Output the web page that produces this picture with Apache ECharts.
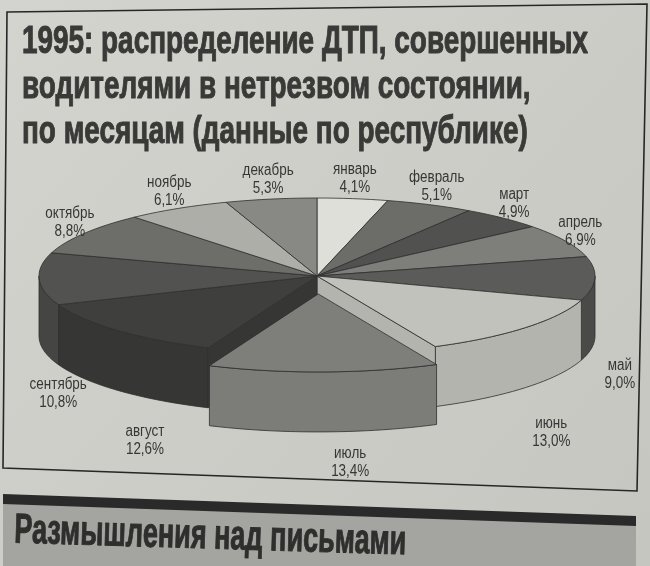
<!DOCTYPE html>
<html>
<head>
<meta charset="utf-8">
<script src="https://cdn.jsdelivr.net/npm/echarts@6/dist/echarts.min.js"></script>
<style>
  html, body { margin: 0; padding: 0; background: #cdcdc8; }
  #chart { width: 650px; height: 566px; }
</style>
</head>
<body>
<div id="chart"></div>
<script>
// data (shares of the year, %)
const months = ['январь', 'февраль', 'март', 'апрель', 'май', 'июнь',
                'июль', 'август', 'сентябрь', 'октябрь', 'ноябрь', 'декабрь'];
const shares = [4.1, 5.1, 4.9, 6.9, 9.0, 13.0, 13.4, 12.6, 10.8, 8.8, 6.1, 5.3];
const explodedMonth = 'июль';

const titleLines = ['1995: распределение ДТП, совершенных',
                    'водителями в нетрезвом состоянии,',
                    'по месяцам (данные по республике)'];
const headingText = 'Размышления над письмами';

// grey "halftone" tones for top faces and walls
const topTones  = ['#dfdfd9', '#6c6c69', '#515150', '#7e7e7b', '#5b5b59', '#c2c2bc',
                   '#7e7e7b', '#3f3f3e', '#525250', '#6d6d6a', '#aeaea9', '#888885'];
const sideTones = ['#c8c8c2', '#5a5a58', '#444443', '#686866', '#4a4a48', '#b4b4ae',
                   '#7c7c79', '#363635', '#454544', '#5c5c5a', '#9a9a95', '#747471'];

const FONT = "'Liberation Sans', Arial, sans-serif";

// the paper uses a condensed face: squeeze Liberation Sans to the printed width
const measureCtx = document.createElement('canvas').getContext('2d');
function fitScale(text, font, width) {
  measureCtx.font = font;
  return width / measureCtx.measureText(text).width;
}

// pie geometry (tilted ellipse)
const CX = 317, CY = 276, RX = 278, RY = 78, DEPTH = 60;

const total = shares.reduce((a, b) => a + b, 0);
const startAngles = [];
const endAngles = [];
let acc = 0;
shares.forEach(v => {
  startAngles.push(acc / total * 360);
  acc += v;
  endAngles.push(acc / total * 360);
});

function pt(deg, ox, oy, drop) {
  const r = deg * Math.PI / 180;
  return [CX + ox + RX * Math.sin(r), CY + oy - RY * Math.cos(r) + (drop || 0)];
}

function arcPts(a0, a1, ox, oy, drop) {
  const n = Math.max(2, Math.ceil((a1 - a0) / 2));
  const out = [];
  for (let k = 0; k <= n; k++) out.push(pt(a0 + (a1 - a0) * k / n, ox, oy, drop));
  return out;
}

function fmtShare(v) {
  return v.toFixed(1).replace('.', ',') + '%';
}

const edge = { stroke: '#2f2f2e', lineWidth: 0.8 };

// layer: 'walls' | 'tops' | 'pulled' | 'labels'
function makeRenderer(layer) {
  return function (params, api) {
    const i = params.dataIndex;
    const share = api.value(1);
    const a0 = startAngles[i], a1 = endAngles[i];
    const m = (a0 + a1) / 2 * Math.PI / 180;
    const exploded = months[i] === explodedMonth;
    const ox = exploded ? 0.23 * RX * Math.sin(m) : 0;
    const oy = exploded ? -0.23 * RY * Math.cos(m) : 0;
    const c = [CX + ox, CY + oy];
    const children = [];

    if (layer === 'labels') {
      // upper labels on a wide ellipse, lower ones pushed below the wall
      const s = Math.sin(m), co = Math.cos(m);
      const front = co < 0;
      const leftPull = Math.pow(Math.max(0, -s), 4);
      const lx = front ? CX + 28 + 275 * s - 12 * leftPull : CX + 295 * s;
      const ly = front ? CY + 96 - 91 * co + 18 * leftPull : CY - 98 * co;
      return {
        type: 'text', x: lx, y: ly, scaleX: 0.84,
        style: {
          text: months[i] + '\n' + fmtShare(share),
          x: 0, y: 0, align: 'center', verticalAlign: 'middle',
          fontSize: 16, lineHeight: 18, fontFamily: FONT, fill: '#363635'
        }
      };
    }

    if ((layer === 'pulled') !== exploded) return null;

    if (layer === 'walls' || layer === 'pulled') {
      // outer wall, only the half that faces us
      const w0 = Math.max(a0, 90), w1 = Math.min(a1, 270);
      if (w1 > w0) {
        const topEdge = arcPts(w0, w1, ox, oy, 0);
        const botEdge = arcPts(w0, w1, ox, oy, DEPTH).reverse();
        children.push({
          type: 'polygon', shape: { points: topEdge.concat(botEdge) },
          style: Object.assign({ fill: sideTones[i] }, edge)
        });
      }
      // cut faces left open by the pulled-out slice
      const cutFace = deg => {
        const p = pt(deg, ox, oy, 0);
        return [c, p, [p[0], p[1] + DEPTH], [c[0], c[1] + DEPTH]];
      };
      const n = months.length;
      const next = months[(i + 1) % n], prev = months[(i + n - 1) % n];
      if (!exploded && next === explodedMonth && Math.sin(a1 * Math.PI / 180) > 0) {
        children.push({ type: 'polygon', shape: { points: cutFace(a1) },
          style: Object.assign({ fill: sideTones[i] }, edge) });
      }
      if (!exploded && prev === explodedMonth && Math.sin(a0 * Math.PI / 180) < 0) {
        children.push({ type: 'polygon', shape: { points: cutFace(a0) },
          style: Object.assign({ fill: sideTones[i] }, edge) });
      }
    }

    if (layer === 'tops' || layer === 'pulled') {
      children.push({
        type: 'polygon', shape: { points: [c].concat(arcPts(a0, a1, ox, oy, 0)) },
        style: Object.assign({ fill: topTones[i] }, edge)
      });
    }

    return { type: 'group', children };
  };
}

const titleFont = 'bold 38px ' + FONT;
const titleScale = fitScale(titleLines[0], titleFont, 566);
const headingFont = 'bold 42px ' + FONT;
const headingScale = fitScale(headingText, headingFont, 392);

const sliceData = months.map((name, i) => ({ name, value: [i, shares[i]] }));

const chart = echarts.init(document.getElementById('chart'), null, { renderer: 'canvas' });

chart.setOption({
  backgroundColor: {
    type: 'linear', x: 0, y: 0, x2: 1, y2: 1,
    colorStops: [{ offset: 0, color: '#d4d4cf' }, { offset: 1, color: '#c6c6c1' }]
  },
  animation: false,
  graphic: [
    { type: 'polygon', z: -1,
      shape: { points: [[7, 12], [647, 4], [637, 491], [3, 468]] },
      style: { fill: 'none', stroke: '#262626', lineWidth: 1.6 } }
  ].concat(titleLines.map((line, k) => ({
    // 'top' anchor: the baseline lands about 31px lower
    type: 'text', x: 22, y: 24 + 45 * k, scaleX: titleScale,
    style: { text: line, font: titleFont, fill: '#393938', stroke: '#393938', lineWidth: 1,
             verticalAlign: 'top' }
  }))).concat([
    { type: 'polygon',
      shape: { points: [[3, 503], [636, 525], [636, 566], [3, 566]] },
      style: { fill: '#a4a4a0' } },
    { type: 'polygon',
      shape: { points: [[3, 494], [636, 516], [636, 526], [3, 504]] },
      style: { fill: '#2a2a2a' } },
    { type: 'text', x: 15, y: 510, rotation: -0.03, scaleX: headingScale,
      style: { text: headingText, font: headingFont, fill: '#2e2e2d', stroke: '#2e2e2d', lineWidth: 1,
               verticalAlign: 'top' } }
  ]),
  series: ['walls', 'tops', 'pulled', 'labels'].map((layer, k) => ({
    type: 'custom',
    name: layer,
    coordinateSystem: 'none',
    silent: true,
    z: 2 + k,
    renderItem: makeRenderer(layer),
    data: sliceData
  }))
});
</script>
</body>
</html>
